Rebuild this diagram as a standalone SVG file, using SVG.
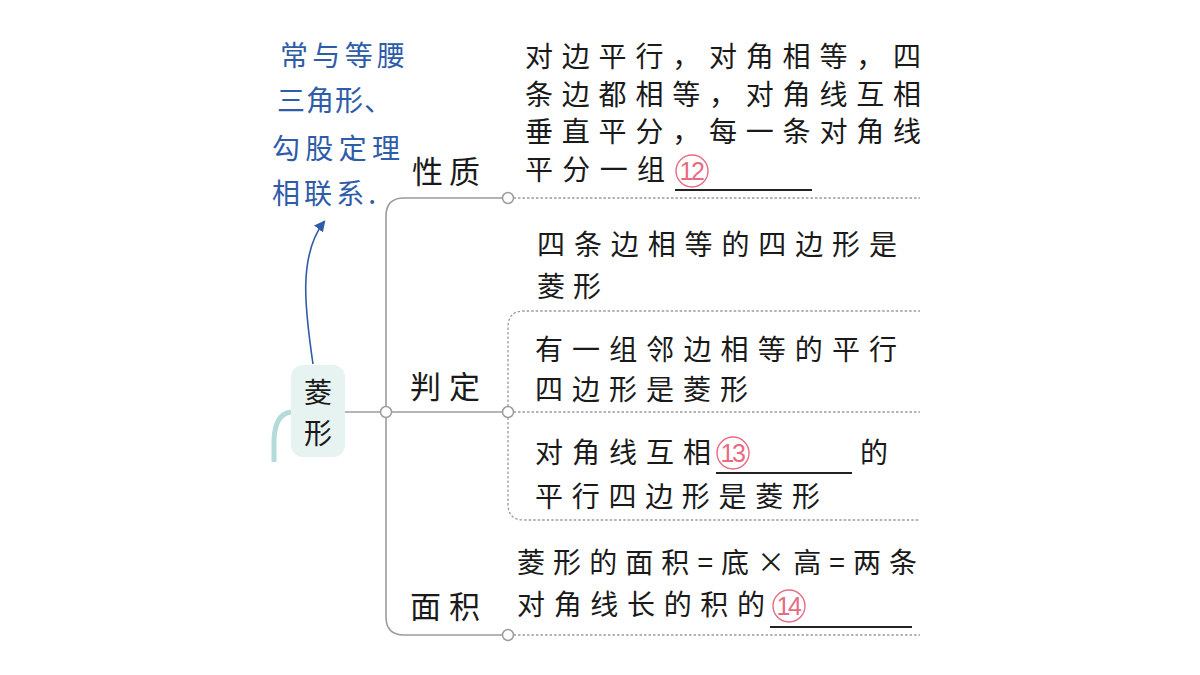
<svg xmlns="http://www.w3.org/2000/svg" width="1200" height="675" viewBox="0 0 1200 675">
<style>
.t{font-family:"Noto Sans CJK SC","Noto Sans",sans-serif;font-size:28px;fill:#1a1a1a}
.lb{font-family:"Noto Sans CJK SC","Noto Sans",sans-serif;font-size:31px;fill:#1a1a1a}
.rt{font-family:"Noto Sans CJK SC","Noto Sans",sans-serif;font-size:28px;fill:#1a1a1a}
.bl{font-family:"Noto Sans CJK SC","Noto Sans",sans-serif;font-size:28px;fill:#2f5ca8}
.nc{fill:none;stroke:#e86b82;stroke-width:1.4}
.nt{font-family:"Liberation Sans","Noto Sans",sans-serif;font-size:25px;fill:#e86b82;text-anchor:middle;letter-spacing:-2.5px}
.ln{fill:none;stroke:#9c9c9c;stroke-width:1.6}
.dot{fill:none;stroke:#9c9c9c;stroke-width:1.3;stroke-dasharray:2.5 2}
.ul{stroke:#222;stroke-width:2}
.c{fill:#fff;stroke:#9c9c9c;stroke-width:1.5}
</style>
<defs>
<marker id="ah" viewBox="0 0 10 10" refX="8" refY="5" markerWidth="7" markerHeight="7" orient="auto">
<path d="M0,0 L10,5 L0,10 Z" fill="#2f5ca8"/>
</marker>
</defs>
<rect width="1200" height="675" fill="#fff"/>
<g id="connectors">
<path class="ln" d="M345,412 H380.5"/>
<path class="ln" d="M502.5,198 H404 Q386,198 386,216 V617 Q386,635 404,635 H502.5"/>
<path class="ln" d="M391.5,412 H502.5"/>
<path class="dot" d="M513.5,198 H920"/>
<path class="dot" d="M513.5,635 H920"/>
<path class="dot" d="M513.5,412 H920"/>
<path class="dot" d="M508,406.5 V327 Q508,311 524,311 H920"/>
<path class="dot" d="M508,417.5 V504 Q508,520 524,520 H920"/>
<circle class="c" cx="386" cy="412" r="5.5"/>
<circle class="c" cx="508" cy="198" r="5.5"/>
<circle class="c" cx="508" cy="412" r="5.5"/>
<circle class="c" cx="508" cy="635" r="5.5"/>
<path d="M291,412 Q275,414 274,440 V462" fill="none" stroke="#b3dcd8" stroke-width="5"/>
<path d="M313,364 C305,310 298,255 324,222" fill="none" stroke="#2f5ca8" stroke-width="1.6" marker-end="url(#ah)"/>
</g>
<g id="node-root">
<rect x="291" y="365" width="54" height="92" rx="12" fill="#e6f3f1"/>
<text class="rt" x="318" y="403" text-anchor="middle">菱</text>
<text class="rt" x="318" y="444" text-anchor="middle">形</text>
</g>
<g id="note">
<text class="bl" x="280" y="66" textLength="125" lengthAdjust="spacing">常与等腰</text>
<text class="bl" x="277" y="111" letter-spacing="1">三角形、</text>
<text class="bl" x="272" y="159" textLength="128" lengthAdjust="spacing">勾股定理</text>
<text class="bl" x="272" y="204" textLength="104" lengthAdjust="spacing">相联系.</text>
</g>
<g id="node-xingzhi">
<text class="lb" x="412" y="183" textLength="68" lengthAdjust="spacing">性质</text>
<text class="t" x="525" y="67" textLength="396" lengthAdjust="spacing">对边平行，对角相等，四</text>
<text class="t" x="525" y="105" textLength="396" lengthAdjust="spacing">条边都相等，对角线互相</text>
<text class="t" x="525" y="142" textLength="396" lengthAdjust="spacing">垂直平分，每一条对角线</text>
<text class="t" x="525" y="180" textLength="140" lengthAdjust="spacing">平分一组</text>
<circle class="nc" cx="692" cy="171" r="16"/>
<text class="nt" x="691" y="180">12</text>
<line class="ul" x1="675" y1="190" x2="812" y2="190"/>
</g>
<g id="node-panding">
<text class="lb" x="410" y="398" textLength="70" lengthAdjust="spacing">判定</text>
<text class="t" x="537" y="255" textLength="360" lengthAdjust="spacing">四条边相等的四边形是</text>
<text class="t" x="537" y="297" textLength="64" lengthAdjust="spacing">菱形</text>
<text class="t" x="535" y="360" textLength="362" lengthAdjust="spacing">有一组邻边相等的平行</text>
<text class="t" x="535" y="400" textLength="213" lengthAdjust="spacing">四边形是菱形</text>
<text class="t" x="535" y="463" textLength="176" lengthAdjust="spacing">对角线互相</text>
<circle class="nc" cx="733" cy="453" r="16"/>
<text class="nt" x="732" y="462">13</text>
<line class="ul" x1="716" y1="473" x2="852" y2="473"/>
<text class="t" x="860" y="463">的</text>
<text class="t" x="535" y="507" textLength="285" lengthAdjust="spacing">平行四边形是菱形</text>
</g>
<g id="node-mianji">
<text class="lb" x="410" y="618" textLength="70" lengthAdjust="spacing">面积</text>
<text class="t" x="517" y="573" textLength="400" lengthAdjust="spacing">菱形的面积=底×高=两条</text>
<text class="t" x="517" y="615" textLength="248" lengthAdjust="spacing">对角线长的积的</text>
<circle class="nc" cx="789" cy="606" r="16"/>
<text class="nt" x="788" y="615">14</text>
<line class="ul" x1="770" y1="627" x2="912" y2="627"/>
</g>
</svg>
